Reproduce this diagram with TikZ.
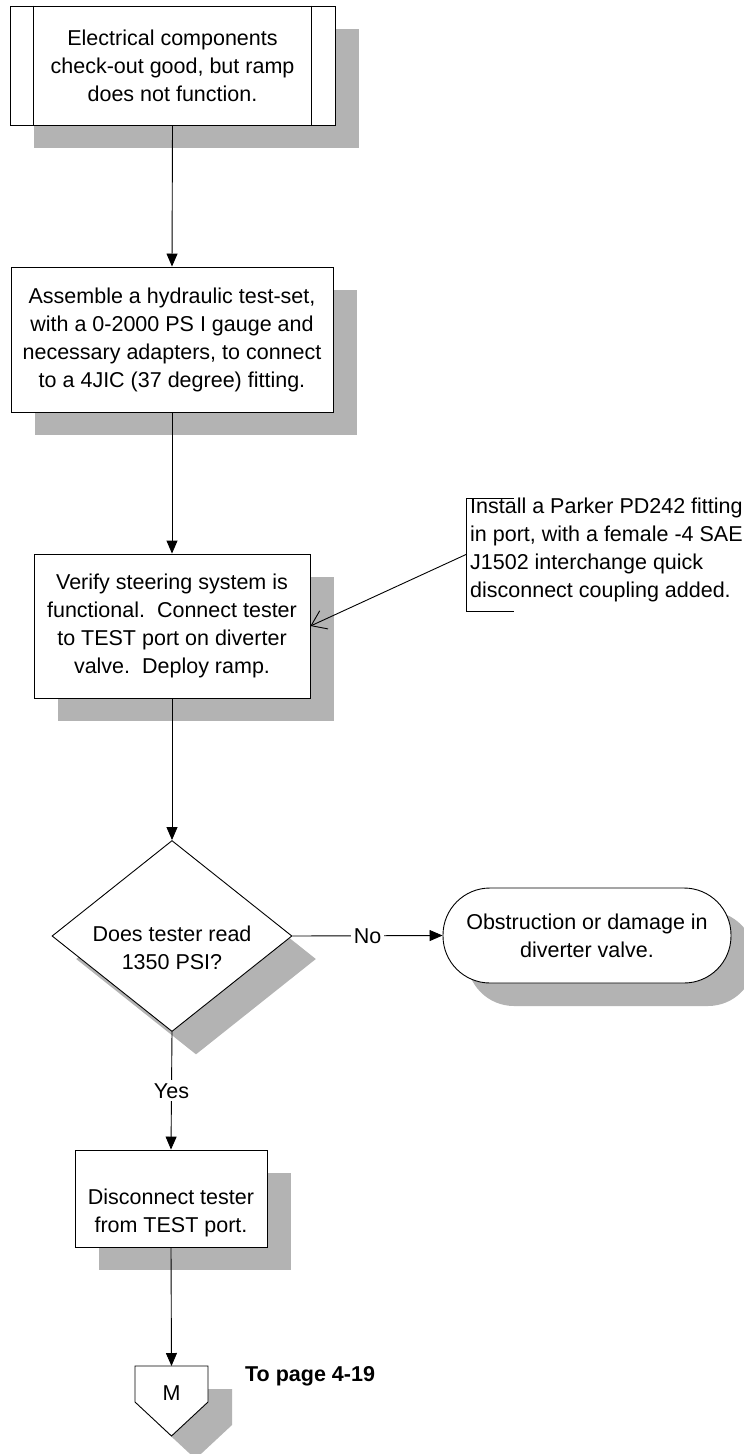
\documentclass[tikz,border=0pt]{standalone}
\usepackage{fontspec}
\setmainfont{Liberation Sans}
\usetikzlibrary{shapes.geometric,shadows,arrows.meta}
\definecolor{shadowgray}{RGB}{179,179,179}
\begin{document}
\begin{tikzpicture}[x=1pt,y=-1pt,
  every node/.style={font=\fontsize{21.5}{28}\selectfont, align=center, inner sep=0pt},
  boxshadow/.style={drop shadow={shadow xshift=24pt, shadow yshift=-23pt, fill=shadowgray, opacity=1}},
  stepbox/.style={draw, line width=0.9pt, fill=white, boxshadow},
  flow/.style={line width=0.9pt, -{Triangle[length=13pt,width=11pt]}},
  callout/.style={line width=0.9pt, -{Straight Barb[length=14pt,width=20pt]}},
  edgelabel/.style={fill=white, inner sep=3pt}]
\useasboundingbox (0,0) rectangle (744,1454);

% start: predefined-process box
\node[stepbox, minimum width=325pt, minimum height=119pt] (start) at (172.5,65.5)
  {Electrical components\\check-out good, but ramp\\does not function.};
\draw[line width=0.9pt] ([xshift=24pt]start.north west) -- ([xshift=24pt]start.south west);
\draw[line width=0.9pt] ([xshift=-24pt]start.north east) -- ([xshift=-24pt]start.south east);

% process steps
\node[stepbox, minimum width=322pt, minimum height=145pt] (assemble) at (172,339.5)
  {Assemble a hydraulic test-set,\\with a 0-2000 PS I gauge and\\necessary adapters, to connect\\to a 4JIC (37 degree) fitting.};
\node[stepbox, minimum width=276pt, minimum height=144pt] (verify) at (172,626)
  {Verify steering system is\\functional.\ \ Connect tester\\to TEST port on diverter\\valve.\ \ Deploy ramp.};

% side note with bracket
\draw[line width=0.9pt] (514,498) -- (466,498) -- (466,611) -- (514,611);
\coordinate (notept) at (466,554.5);
\node[anchor=west, align=left] (note) at (470,550)
  {Install a Parker PD242 fitting\\in port, with a female -4 SAE\\J1502 interchange quick\\disconnect coupling added.};

% decision
\node[diamond, stepbox, minimum width=240pt, minimum height=191pt] (decide) at (172,936) {};
\node (decidetext) at (172,948) {Does tester read\\1350 PSI?};

% terminator
\node[stepbox, rounded corners=47pt, minimum width=288pt, minimum height=95pt] (fault) at (587,935.5)
  {Obstruction or damage in\\diverter valve.};

% final step
\node[stepbox, minimum width=192pt, minimum height=97pt] (disconnect) at (171,1198.5) {};
\node (disconnecttext) at (171,1213) {Disconnect tester\\from TEST port.};

% off-page connector
\filldraw[fill=white, line width=0.9pt, boxshadow]
  (135,1366) -- (208,1366) -- (208,1402) -- (171.5,1436) -- (135,1402) -- cycle;
\coordinate (offpage) at (171.5,1366);
\node (offpagetext) at (171.5,1393) {M};
\node[anchor=base west, font=\bfseries\fontsize{21.5}{25}\selectfont] (topage) at (245,1381) {To page 4-19};

% connectors
\draw[flow] (start.south) -- (assemble.north);
\draw[flow] (assemble.south) -- (verify.north);
\draw[flow] (verify.south) -- (decide.north);
\draw[flow] (decide.east) -- node[edgelabel] {No} (fault.west);
\draw[flow] (decide.south) -- node[edgelabel] {Yes} (disconnect.north);
\draw[flow] (disconnect.south) -- (offpage);
\draw[callout] (notept) -- (verify.east);
\end{tikzpicture}
\end{document}
